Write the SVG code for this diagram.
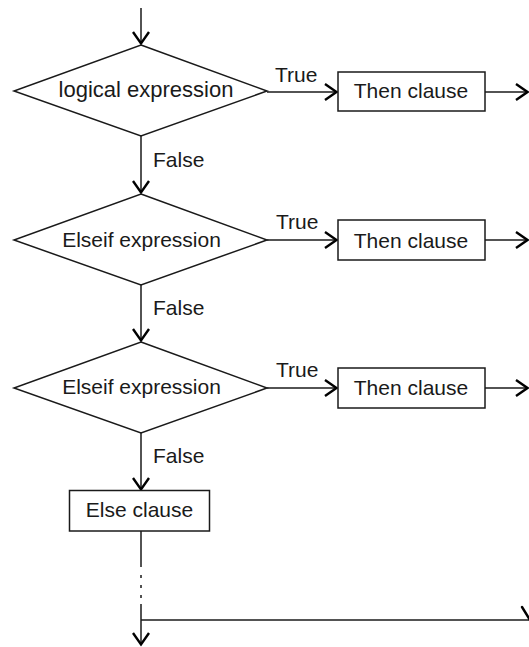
<svg xmlns="http://www.w3.org/2000/svg" width="529" height="647" viewBox="0 0 529 647">
<defs>
<style>
.shape{fill:#fff;stroke:#1a1a1a;stroke-width:1.5}
.line{fill:none;stroke:#1a1a1a;stroke-width:1.5}
.head{fill:none;stroke:#000;stroke-width:2.4;stroke-linecap:round;stroke-linejoin:miter}
text{font-family:"Liberation Sans",Arial,sans-serif;font-size:21px;fill:#1a1a1a}
.c{text-anchor:middle}
</style>
<marker id="arr" markerUnits="userSpaceOnUse" markerWidth="20" markerHeight="20" viewBox="-14 -10 16 20" refX="0" refY="0" orient="auto">
<path d="M-12,-8 L-0.5,0 L-12,8" fill="none" stroke="#000" stroke-width="2.4"/>
</marker>
</defs>
<rect width="529" height="647" fill="#fff"/>
<g id="connectors">
<line class="line" x1="141" y1="8" x2="141" y2="44" marker-end="url(#arr)"/>
<line class="line" x1="141" y1="136" x2="141" y2="193" marker-end="url(#arr)"/>
<line class="line" x1="141" y1="285" x2="141" y2="341" marker-end="url(#arr)"/>
<line class="line" x1="141" y1="433" x2="141" y2="490" marker-end="url(#arr)"/>
<line class="line" x1="267" y1="92" x2="337" y2="92" marker-end="url(#arr)"/>
<line class="line" x1="267" y1="240" x2="337" y2="240" marker-end="url(#arr)"/>
<line class="line" x1="267" y1="388" x2="337" y2="388" marker-end="url(#arr)"/>
<line class="line" x1="485" y1="92" x2="528" y2="92" marker-end="url(#arr)"/>
<line class="line" x1="485" y1="240" x2="528" y2="240" marker-end="url(#arr)"/>
<line class="line" x1="485" y1="388" x2="528" y2="388" marker-end="url(#arr)"/>
<line class="line" x1="141" y1="531" x2="141" y2="567"/>
<line class="line" x1="141" y1="575" x2="141" y2="599" stroke-dasharray="3,7"/>
<line class="line" x1="141" y1="604" x2="141" y2="645" marker-end="url(#arr)"/>
<line class="line" x1="141" y1="620" x2="529" y2="620"/>
<path class="head" d="M522,607 L530,620 L538,607"/>
<text x="275" y="82">True</text>
<text x="276" y="229">True</text>
<text x="276" y="377">True</text>
<text x="153" y="167">False</text>
<text x="153" y="315">False</text>
<text x="153" y="463">False</text>
</g>
<g id="cond1">
<polygon class="shape" points="141,45 267,91 141,136 14,91"/>
<text class="c" x="146" y="97" style="font-size:22px">logical expression</text>
</g>
<g id="then1">
<rect class="shape" x="338" y="72" width="147" height="39"/>
<text class="c" x="411" y="98">Then clause</text>
</g>
<g id="cond2">
<polygon class="shape" points="141,194 267,240 141,285 14,240"/>
<text class="c" x="141.5" y="247">Elseif expression</text>
</g>
<g id="then2">
<rect class="shape" x="338" y="220" width="147" height="40"/>
<text class="c" x="411" y="248">Then clause</text>
</g>
<g id="cond3">
<polygon class="shape" points="141,342 267,388 141,433 14,388"/>
<text class="c" x="141.5" y="394">Elseif expression</text>
</g>
<g id="then3">
<rect class="shape" x="338" y="368" width="147" height="40"/>
<text class="c" x="411" y="395">Then clause</text>
</g>
<g id="else">
<rect class="shape" x="69.5" y="490.5" width="140" height="40.5"/>
<text class="c" x="139.5" y="517">Else clause</text>
</g>
</svg>
